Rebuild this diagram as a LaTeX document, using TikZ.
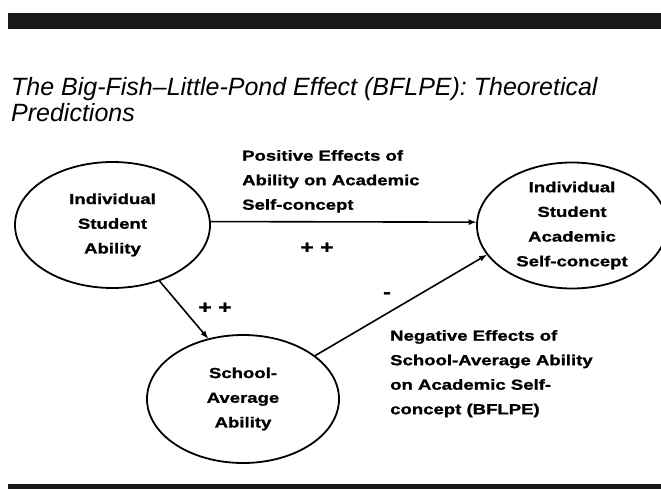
\documentclass[tikz,border=0pt]{standalone}
\usepackage{fontspec}
\setmainfont{Liberation Sans}
\newfontfamily\labelfont[FakeStretch=1.28, FakeBold=1.2]{Liberation Sans}
\newfontfamily\titlefont[Ligatures=TeX]{Liberation Sans}
\usetikzlibrary{shapes.geometric, positioning}

\begin{document}
\begin{tikzpicture}[x=1pt, y=-1pt]

        % Setup the styles
        \tikzset{var style/.style={ellipse,
                                   draw,
                                   line width=1.8pt,
                                   inner sep=0pt,
                                   align=center,
                                   font=\labelfont\bfseries\fontsize{14.5}{24.7}\selectfont},
                 note style/.style={inner sep=0pt,
                                    align=left,
                                    anchor=north west,
                                    font=\labelfont\bfseries\fontsize{14.5}{24.5}\selectfont},
                 sign style/.style={inner sep=0pt,
                                    font=\labelfont\bfseries\fontsize{18}{18}\selectfont},
                 effect arrow/.style={line width=1.6pt, >=latex, ->},
                 bar style/.style={fill=black!90}}

        \useasboundingbox (0,0) rectangle (661,489);

        % Bars and title
        \fill[bar style] (8,13) rectangle (661,29);
        \fill[bar style] (8,484) rectangle (661,489);
        \node[inner sep=0pt, anchor=base west, align=left,
              font=\titlefont\itshape\fontsize{25}{26}\selectfont] at (11,122) (title)
            {The Big-Fish–Little-Pond Effect (BFLPE): Theoretical\\Predictions};

        % Draw the variables
        \node[var style, minimum width=195, minimum height=126] at (112.5,225) (ability)
            {Individual\\Student\\Ability};
        \node[var style, minimum width=190, minimum height=126] at (572,225.5) (self)
            {Individual\\Student\\Academic\\Self-concept};
        \node[var style, minimum width=192, minimum height=128] at (243,399) (school)
            {School-\\Average\\Ability};

        % Labels and signs
        \node[note style] at (242,150) (poslabel)
            {Positive Effects of\\Ability on Academic\\Self-concept};
        \node[note style] at (390,330) (neglabel)
            {Negative Effects of\\School-Average Ability\\on Academic Self-\\concept (BFLPE)};
        \node[sign style] at (317,248) (plusmain) {+ +};
        \node[sign style] at (215,308) (plusschool) {+ +};
        \node[sign style] at (387,295) (minus) {-};

        % Connect the variables with arrows
        \draw[effect arrow] (ability.2) -- (self.178);
        \draw[effect arrow] (ability.-50) -- (school.120);
        \draw[effect arrow] (school.31) -- (self.199);
    \end{tikzpicture}
\end{document}
